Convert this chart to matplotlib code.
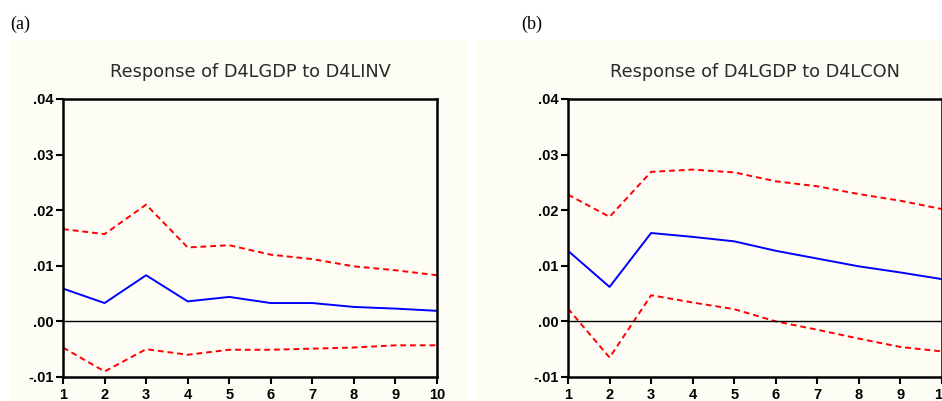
import numpy as np
import matplotlib
matplotlib.use('Agg')
import matplotlib.pyplot as plt
from matplotlib.patches import Rectangle

# impulse response periods
periods = [1, 2, 3, 4, 5, 6, 7, 8, 9, 10]

# (a) Response of D4LGDP to D4LINV
inv_resp = [0.0059, 0.0033, 0.0083, 0.0036, 0.0044, 0.0033, 0.0033, 0.0026, 0.0023, 0.0019]
inv_upper = [0.0166, 0.0157, 0.0210, 0.0133, 0.0137, 0.0120, 0.0112, 0.0099, 0.0092, 0.0083]
inv_lower = [-0.0047, -0.0090, -0.0050, -0.0060, -0.0051, -0.0051, -0.0049, -0.0047, -0.0043, -0.0043]

# (b) Response of D4LGDP to D4LCON
con_resp = [0.0127, 0.0062, 0.0159, 0.0152, 0.0144, 0.0127, 0.0113, 0.0099, 0.0088, 0.0076]
con_upper = [0.0228, 0.0188, 0.0269, 0.0273, 0.0268, 0.0252, 0.0243, 0.0229, 0.0217, 0.0202]
con_lower = [0.0023, -0.0065, 0.0047, 0.0034, 0.0022, 0.0000, -0.0015, -0.0031, -0.0046, -0.0054]

y_ticks = [-0.01, 0.00, 0.01, 0.02, 0.03, 0.04]
y_labels = ['-.01', '.00', '.01', '.02', '.03', '.04']

panels = [
    ('(a)', 'Response of D4LGDP to D4LINV', inv_resp, inv_upper, inv_lower),
    ('(b)', 'Response of D4LGDP to D4LCON', con_resp, con_upper, con_lower),
]

bg = '#fdfdf6'
fig = plt.figure(figsize=(9.42, 4.01), dpi=100)
fig.patch.set_facecolor('white')

# cream backgrounds of the two pasted images
fig.patches.append(Rectangle((10 / 942, 0), 458 / 942, 361 / 401, transform=fig.transFigure,
                             facecolor=bg, edgecolor='none', zorder=-5))
fig.patches.append(Rectangle((476 / 942, 0), 466 / 942, 361 / 401, transform=fig.transFigure,
                             facecolor=bg, edgecolor='none', zorder=-5))

lefts = [63 / 942, 568 / 942]
letter_x = [10 / 942, 521 / 942]

for i, (letter, title, resp, upper, lower) in enumerate(panels):
    ax = fig.add_axes([lefts[i], 24 / 401, 374 / 942, 278 / 401])
    ax.set_facecolor(bg)
    ax.plot(periods, upper, color='red', lw=1.4, dashes=(3, 2))
    ax.plot(periods, lower, color='red', lw=1.4, dashes=(3, 2))
    ax.plot(periods, resp, color='blue', lw=1.4)
    ax.axhline(0, color='black', lw=1.0)

    ax.set_xlim(1, 10)
    ax.set_ylim(-0.01, 0.04)
    ax.set_xticks(periods)
    ax.set_xticklabels([str(p) for p in periods])
    ax.set_yticks(y_ticks)
    ax.set_yticklabels(y_labels)
    ax.tick_params(direction='out', length=5, width=1.5, pad=2,
                   labelsize=10.5, colors='black')
    ax.tick_params(axis='x', pad=3)
    for lab in ax.get_xticklabels() + ax.get_yticklabels():
        lab.set_fontfamily('Liberation Sans')
        lab.set_fontweight('bold')
    for sp in ax.spines.values():
        sp.set_linewidth(1.8)
    ax.set_title(title, fontsize=12.8, family='DejaVu Sans', pad=16, color='#2a2a2a')

    fig.text(letter_x[i], 1 - 24 / 401, letter, fontsize=13, family='Liberation Serif',
             va='center', ha='left')

fig.savefig('out.png', dpi=100)
